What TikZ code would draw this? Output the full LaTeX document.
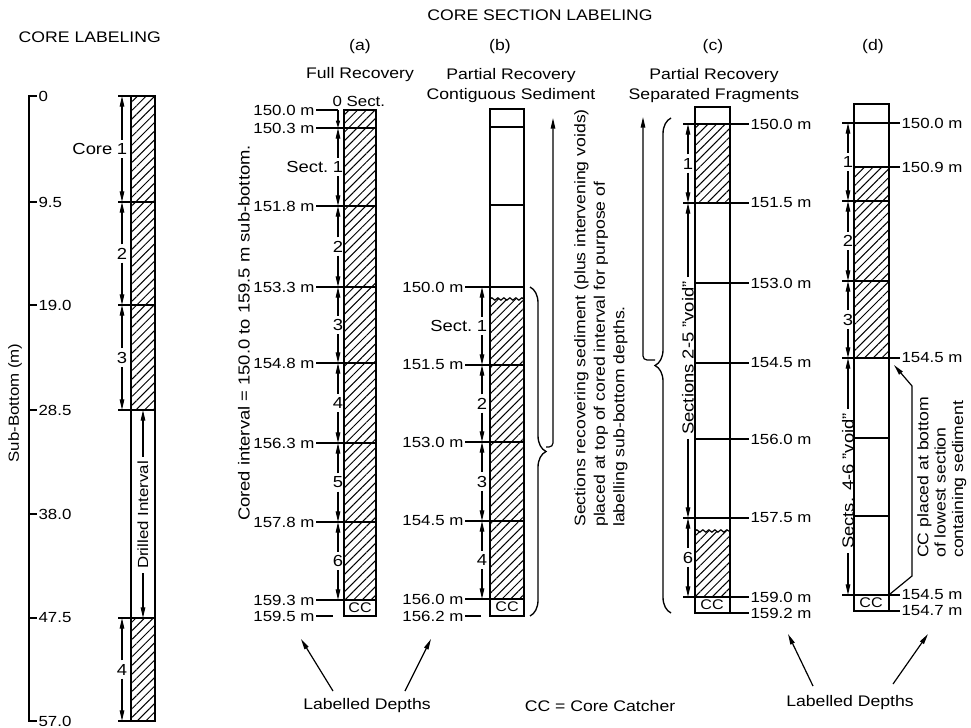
\documentclass[tikz,border=0pt]{standalone}
\usepackage{fontspec}
\setmainfont{Liberation Sans}[FakeStretch=1.15]
\usetikzlibrary{arrows.meta, patterns.meta, decorations.pathreplacing, decorations.pathmorphing, positioning}
\tikzset{
    coreOutline/.style={draw=black, line width=1.1pt},
    coreHatch/.style={pattern={Lines[angle=45, distance=4.6pt, line width=0.75pt]}},
    depthLine/.style={line width=0.9pt},
    wavyTop/.style={depthLine, decorate, decoration={snake, amplitude=0.9pt, segment length=4.5pt}},
    secArrow/.style={-{Triangle[length=8pt, width=3.4pt]}, line width=0.9pt},
    shortArrow/.style={-{Triangle[length=5.5pt, width=3pt]}, line width=0.9pt},
    longArrow/.style={secArrow, rounded corners=3pt},
    sideBrace/.style={line width=1pt, decorate, decoration={brace, amplitude=12pt}},
    depthLabel/.style={font=\fontsize{11}{13}\selectfont, inner sep=1pt},
    secLabel/.style={font=\fontsize{12}{14}\selectfont, inner sep=2.5pt},
    ccLabel/.style={font=\fontsize{10.5}{12}\selectfont, inner sep=0pt},
    titleLabel/.style={font=\fontsize{11.5}{15}\selectfont, align=center},
    noteLabel/.style={font=\fontsize{11.5}{14.6}\selectfont, rotate=90, align=left, anchor=north west, inner sep=0pt}
}
\begin{document}
\begin{tikzpicture}[x=0.75pt, y=-0.75pt]
    \useasboundingbox (0,0) rectangle (971,728);

    % ── HEADERS
    \node[titleLabel, anchor=west] (hCoreLab) at (14,37) {CORE LABELING};
    \node[titleLabel] (hSecLab) at (540,15) {CORE SECTION LABELING};
    \node[titleLabel] (hA) at (360,47) {(a)};
    \node[titleLabel] (hB) at (500,47) {(b)};
    \node[titleLabel] (hC) at (713,47) {(c)};
    \node[titleLabel] (hD) at (873,47) {(d)};
    \node[titleLabel] (tA) at (360,75) {Full Recovery};
    \node[titleLabel] (tB) at (511,86) {Partial Recovery\\Contiguous Sediment};
    \node[titleLabel] (tC) at (714,86) {Partial Recovery\\Separated Fragments};

    % ── CORE LABELING: SUB-BOTTOM SCALE
    \draw[depthLine] (37,96) -- (29,96) -- (29,721) -- (37,721);
    \foreach \y/\d [count=\i] in {96/0, 202/9.5, 305/19.0, 410/28.5, 514/38.0, 618/47.5, 721/57.0} {
        \draw[depthLine] (29,\y) -- (37,\y);
        \node[depthLabel, anchor=west] (sb\i) at (37,\y) {\d};
    }
    \node[depthLabel, rotate=90] (sbTitle) at (15,403) {Sub-Bottom (m)};

    % ── CORE LABELING: CORE COLUMN
    \fill[coreHatch] (131,96) rectangle (155,410);
    \fill[coreHatch] (131,618) rectangle (155,721);
    \draw[coreOutline] (131,96) rectangle (155,721);
    \foreach \y in {96,202,305,410,618,721} \draw[depthLine] (118,\y) -- (155,\y);
    \foreach \n/\yt/\yb in {1/96/202, 2/202/305, 3/305/410, 4/618/721} {
        \node[secLabel] (core\n) at (122, {(\yt+\yb)/2}) {\n};
        \draw[secArrow] (core\n.north) -- (122,\yt);
        \draw[secArrow] (core\n.south) -- (122,\yb);
    }
    \node[secLabel, left=-2pt of core1] (coreWord) {Core};
    \node[depthLabel, rotate=90, inner sep=3pt] (drill) at (143,515) {Drilled Interval};
    \draw[secArrow] (drill.east) -- (143,410);
    \draw[secArrow] (drill.west) -- (143,618);

    % ── (a) FULL RECOVERY
    \fill[coreHatch] (344,110) rectangle (376,600);
    \draw[coreOutline] (344,110) rectangle (376,616);
    \node[depthLabel, rotate=90, font=\fontsize{12}{14}\selectfont] (aCored) at (244,333) {Cored interval = 150.0 to 159.5 m sub-bottom.};
    \node[depthLabel, anchor=east] (aTop) at (316,110) {150.0 m};
    \draw[depthLine] (aTop.east) -- (338,110);
    \draw[shortArrow] (338,110) -- (338,128);
    \node[depthLabel, anchor=base west] (aSect0) at (331,106) {0 Sect.};
    \foreach \y/\d [count=\i] in {128/150.3, 206/151.8, 287/153.3, 363/154.8, 443/156.3, 522/157.8, 600/159.3} {
        \node[depthLabel, anchor=east] (aD\i) at (316,\y) {\d~m};
        \draw[depthLine] (aD\i.east) -- (376,\y);
    }
    \node[depthLabel, anchor=east] (aBot) at (316,616) {159.5 m};
    \draw[depthLine] (aBot.east) -- (333,616);
    \node[ccLabel] (aCC) at (360,608) {CC};
    \foreach \n/\yt/\yb in {1/128/206, 2/206/287, 3/287/363, 4/363/443, 5/443/522, 6/522/600} {
        \node[secLabel] (aS\n) at (338, {(\yt+\yb)/2}) {\n};
        \draw[secArrow] (aS\n.north) -- (338,\yt);
        \draw[secArrow] (aS\n.south) -- (338,\yb);
    }
    \node[secLabel, left=-2pt of aS1] (aSectWord) {Sect.};

    % ── (b) PARTIAL RECOVERY, CONTIGUOUS SEDIMENT
    \fill[coreHatch] (490,299) rectangle (524,599);
    \draw[wavyTop] (490,299) -- (524,299);
    \draw[coreOutline] (490,109) rectangle (524,616);
    \draw[depthLine] (490,127) -- (524,127);
    \draw[depthLine] (490,205) -- (524,205);
    \foreach \y/\d [count=\i] in {287/150.0, 365/151.5, 442/153.0, 521/154.5, 599/156.0} {
        \node[depthLabel, anchor=east] (bD\i) at (465,\y) {\d~m};
        \draw[depthLine] (bD\i.east) -- (524,\y);
    }
    \node[depthLabel, anchor=east] (bBot) at (465,616) {156.2 m};
    \draw[depthLine] (bBot.east) -- (481,616);
    \node[ccLabel] (bCC) at (507,607) {CC};
    \foreach \n/\yt/\yb in {1/287/365, 2/365/442, 3/442/521, 4/521/599} {
        \node[secLabel] (bS\n) at (482, {(\yt+\yb)/2}) {\n};
        \draw[secArrow] (bS\n.north) -- (482,\yt);
        \draw[secArrow] (bS\n.south) -- (482,\yb);
    }
    \node[secLabel, left=-2pt of bS1] (bSectWord) {Sect.};
    \draw[sideBrace] (530,287) -- (530,616);
    \coordinate (bTip) at (546,447);
    \draw[longArrow] (bTip) -| (553,118);
    \node[noteLabel] (bNote) at (574,527) {Sections recovering sediment (plus intervening voids)\\placed at top of cored interval for purpose of\\labelling sub-bottom depths.};

    % ── (c) PARTIAL RECOVERY, SEPARATED FRAGMENTS
    \fill[coreHatch] (695,124) rectangle (730,203);
    \fill[coreHatch] (695,531) rectangle (730,597);
    \draw[wavyTop] (695,531) -- (730,531);
    \draw[coreOutline] (695,107) rectangle (730,613);
    \foreach \y/\d/\x [count=\i] in {124/150.0/683, 203/151.5/683, 283/153.0/695, 363/154.5/695, 439/156.0/695, 518/157.5/683, 597/159.0/683} {
        \node[depthLabel, anchor=west] (cD\i) at (749,\y) {\d~m};
        \draw[depthLine] (\x,\y) -- (cD\i.west);
    }
    \node[depthLabel, anchor=west] (cBot) at (749,613) {159.2 m};
    \draw[depthLine] (730,613) -- (cBot.west);
    \node[ccLabel] (cCC) at (712,605) {CC};
    \foreach \n/\yt/\yb in {1/124/203, 6/518/597} {
        \node[secLabel] (cS\n) at (688, {(\yt+\yb)/2}) {\n};
        \draw[secArrow] (cS\n.north) -- (688,\yt);
        \draw[secArrow] (cS\n.south) -- (688,\yb);
    }
    \node[depthLabel, rotate=90, inner sep=3pt, font=\fontsize{12}{14}\selectfont] (cVoid) at (688,358) {Sections 2-5 ''void''};
    \draw[secArrow] (cVoid.east) -- (688,203);
    \draw[secArrow] (cVoid.west) -- (688,518);
    \draw[sideBrace] (671,613) -- (671,118);
    \coordinate (cTip) at (655,360);
    \draw[longArrow] (cTip) -| (643,117);

    % ── (d) CC AT BOTTOM OF LOWEST SECTION WITH SEDIMENT
    \fill[coreHatch] (854,167) rectangle (889,358);
    \draw[coreOutline] (854,104) rectangle (889,611);
    \foreach \y in {201,281} \draw[depthLine] (842,\y) -- (889,\y);
    \foreach \y in {438,516} \draw[depthLine] (854,\y) -- (889,\y);
    \foreach \y/\d/\x [count=\i] in {123/150.0/842, 167/150.9/854, 358/154.5/842, 595/154.5/842, 611/154.7/854} {
        \node[depthLabel, anchor=west] (dD\i) at (900,\y) {\d~m};
        \draw[depthLine] (\x,\y) -- (dD\i.west);
    }
    \node[ccLabel] (dCC) at (871,603) {CC};
    \foreach \n/\yt/\yb in {1/123/201, 2/201/281, 3/281/358} {
        \node[secLabel] (dS\n) at (848, {(\yt+\yb)/2}) {\n};
        \draw[secArrow] (dS\n.north) -- (848,\yt);
        \draw[secArrow] (dS\n.south) -- (848,\yb);
    }
    \node[depthLabel, rotate=90, inner sep=3pt, font=\fontsize{12}{14}\selectfont] (dVoid) at (848,481) {Sects. 4-6 ''void''};
    \draw[secArrow] (dVoid.east) -- (848,358);
    \draw[secArrow] (dVoid.west) -- (848,595);
    \draw[secArrow] (890,594) -- (912,576) -- (912,386) -- (894,365);
    \node[noteLabel, font=\fontsize{11.5}{13}\selectfont] (dNote) at (917,558) {CC placed at bottom\\of lowest section\\containing sediment};

    % ── FOOTER LABELS
    \node[titleLabel] (ldLeft) at (367,706) {Labelled Depths};
    \node[titleLabel] (ccKey) at (600,706) {CC = Core Catcher};
    \node[titleLabel] (ldRight) at (850,703) {Labelled Depths};
    \draw[secArrow] (333,691) -- (301,639);
    \draw[secArrow] (405,691) -- (431,639);
    \draw[secArrow] (813,686) -- (788,634);
    \draw[secArrow] (893,684) -- (928,634);
\end{tikzpicture}
\end{document}
